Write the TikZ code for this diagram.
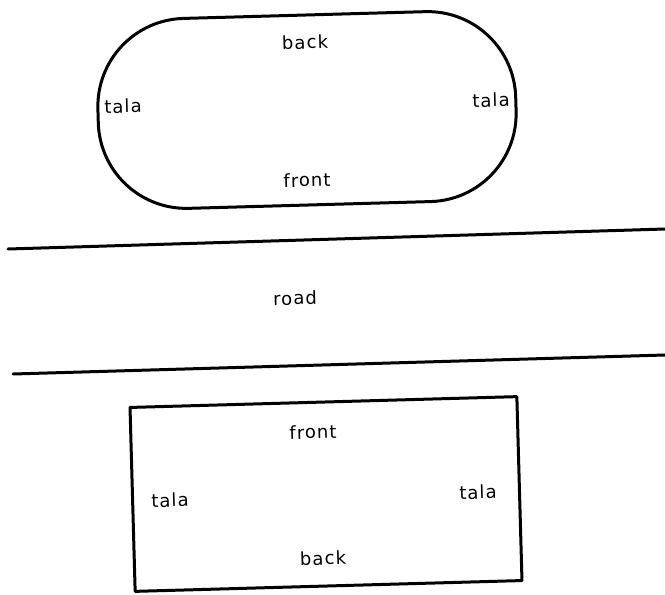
\documentclass[tikz,border=0pt]{standalone}
\usepackage{fontspec}
\usepackage{tikz}
\newfontfamily\plotfont[LetterSpace=6]{DejaVu Sans}
\tikzset{lbl/.style={font=\plotfont\fontsize{18}{18}\selectfont, inner sep=0pt, rotate=1.6}}

\begin{document}
\begin{tikzpicture}[
  x=1pt, y=-1pt,
  thickline/.style={line width=3pt, line cap=round, line join=round}
]
\useasboundingbox (0,0) rectangle (665,595);
% the hall above the road
\draw[thickline, rotate around={1.6:(307,110)}, rounded corners=88pt]
  (98,15) rectangle (516,205);
\node[lbl] (hallback)  at (305,42)  {back};
\node[lbl] (halltalaw) at (123,106) {tala};
\node[lbl] (halltalae) at (491,100) {tala};
\node[lbl] (hallfront) at (307,180) {front};
% the road
\coordinate (roadnw) at (8,249);
\coordinate (roadne) at (665,229);
\coordinate (roadsw) at (13,374);
\coordinate (roadse) at (665,355);
\draw[thickline] (roadnw) -- (roadne);
\draw[thickline] (roadsw) -- (roadse);
\node[lbl] (road) at (295,298) {road};
% the block below the road
\draw[thickline, rotate around={1.6:(326,494)}]
  (132.5,402) rectangle (519.5,586);
\node[lbl] (blockfront) at (313,432) {front};
\node[lbl] (blocktalaw) at (170,500) {tala};
\node[lbl] (blocktalae) at (478,492) {tala};
\node[lbl] (blockback)  at (323,558) {back};
\end{tikzpicture}
\end{document}
